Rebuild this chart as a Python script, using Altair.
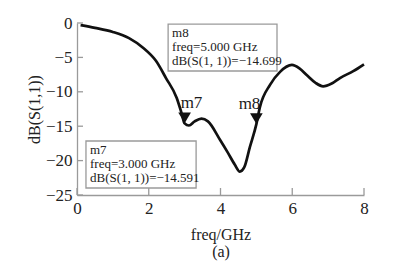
import altair as alt
import pandas as pd

# S11 curve
freq = [0.1, 0.5, 1.0, 1.45, 1.84, 2.2, 2.48, 2.78, 2.92, 3.0, 3.12, 3.28, 3.47, 3.65,
        3.99, 4.2, 4.4, 4.54, 4.66, 4.82, 5.0, 5.1, 5.38, 5.66, 5.99, 6.2, 6.41, 6.65,
        6.86, 7.1, 7.33, 7.7, 8.0]
db = [-0.3, -0.7, -1.3, -2.2, -3.6, -5.5, -8.0, -10.9, -13.2, -14.59, -14.9, -14.3, -13.9, -14.3,
      -17.0, -18.8, -20.6, -21.6, -21.0, -18.0, -14.699, -12.2, -9.0, -7.1, -6.1, -6.6, -7.6, -8.7,
      -9.2, -8.8, -8.0, -7.0, -6.0]

marker_names = ["m7", "m8"]
marker_freq = [3.0, 5.0]
marker_db = [-14.591, -14.699]

box_x = [0.25, 2.54]
box_x2 = [3.32, 5.575]
box_y = [-17.15, -0.15]
box_y2 = [-23.98, -6.98]
box_lines = [
    ["m7", "freq=3.000 GHz", "dB(S(1, 1))=\u221214.591"],
    ["m8", "freq=5.000 GHz", "dB(S(1, 1))=\u221214.699"],
]

x_ticks = [0, 2, 4, 6, 8]
y_ticks = [0, -5, -10, -15, -20, -25]

FONT = "Liberation Serif"
GRAY = "#9a9a9a"

curve = pd.DataFrame({"f": freq, "db": db})
markers = pd.DataFrame({"name": marker_names, "f": marker_freq, "db": marker_db})

xs = alt.Scale(domain=[0, 8], nice=False, zero=False)
ys = alt.Scale(domain=[-25, 0], nice=False, zero=False)

AX = alt.Axis(values=x_ticks, title=["freq/GHz", "(a)"], grid=False, ticks=False,
              labelPadding=5, titlePadding=10, titleLineHeight=17,
              labelOverlap=False, labelFlush=False)
AY = alt.Axis(values=y_ticks, title="dB(S(1,1))", grid=False, ticks=False,
              labelPadding=5, titlePadding=3,
              labelOverlap=False, labelFlush=False)


def XN(field):
    return alt.X(field, scale=xs, axis=AX)


def YN(field):
    return alt.Y(field, scale=ys, axis=AY)


line = alt.Chart(curve).mark_line(color="#111111", strokeWidth=2.7, interpolate="monotone").encode(
    x=XN("f:Q"), y=YN("db:Q"))

# inward ticks
ytk = pd.DataFrame({"db": y_ticks})
ytick_marks = alt.Chart(ytk).mark_rule(color=GRAY, strokeWidth=1.3).encode(
    y=YN("db:Q"), x=alt.value(0), x2=alt.value(6))
xtk = pd.DataFrame({"f": x_ticks})
xtick_marks = alt.Chart(xtk).mark_rule(color=GRAY, strokeWidth=1.3).encode(
    x=XN("f:Q"), y=alt.value(172), y2=alt.value(165))

tri = alt.Chart(markers).mark_point(shape="triangle-down", filled=True, size=160,
                                    color="#111111", opacity=1, yOffset=-5.5).encode(
    x=XN("f:Q"), y=YN("db:Q"))

m7_lab = alt.Chart(markers[markers.name == "m7"]).mark_text(
    font=FONT, fontSize=17, color="#1a1a1a", align="left", baseline="alphabetic", dx=-4, dy=-15
).encode(x=XN("f:Q"), y=YN("db:Q"), text="name:N")
m8_lab = alt.Chart(markers[markers.name == "m8"]).mark_text(
    font=FONT, fontSize=17, color="#1a1a1a", align="right", baseline="alphabetic", dx=4, dy=-15
).encode(x=XN("f:Q"), y=YN("db:Q"), text="name:N")

layers = [line, ytick_marks, xtick_marks, tri, m7_lab, m8_lab]
for i in range(2):
    bdf = pd.DataFrame({"x": [box_x[i]], "x2": [box_x2[i]], "y": [box_y[i]], "y2": [box_y2[i]]})
    rect = alt.Chart(bdf).mark_rect(fill="white", stroke=GRAY, strokeWidth=1.3).encode(
        x=XN("x:Q"), x2="x2:Q", y=YN("y:Q"), y2="y2:Q")
    txt = alt.Chart(bdf).mark_text(font=FONT, fontSize=13, color="#222222", align="left",
                                   baseline="top", lineHeight=14, dx=4, dy=3,
                                   text=box_lines[i]).encode(
        x=XN("x:Q"), y=YN("y:Q"))
    layers += [rect, txt]

chart = alt.layer(*layers).properties(
    width=287, height=172,
    padding={"left": 77, "top": 23, "right": 52, "bottom": 71},
    autosize=alt.AutoSizeParams(type="none"),
    background="white",
).configure_view(stroke=None).configure_axis(
    domainColor=GRAY, domainWidth=1.3,
    labelFont=FONT, labelFontSize=17, labelColor="#222222",
    titleFont=FONT, titleFontSize=16, titleFontWeight="normal", titleColor="#222222",
)

chart.save("out.html", embed_options={"renderer": "svg", "actions": False})
